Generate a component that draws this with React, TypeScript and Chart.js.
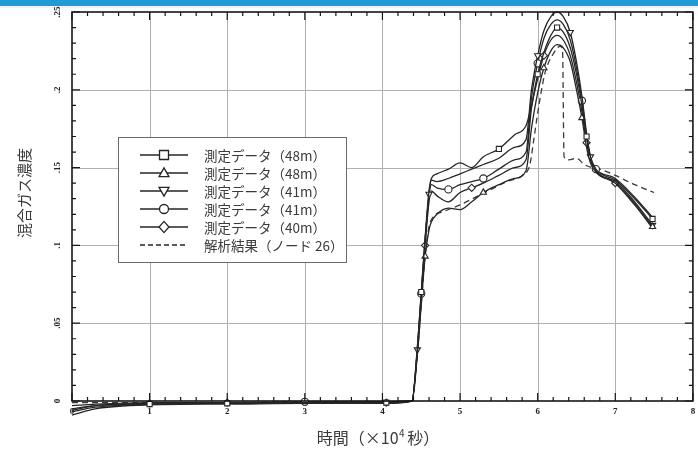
import React, { useEffect, useRef } from "react";
import { Chart, registerables } from "chart.js";

Chart.register(...registerables);

// Time axis (×10^4 s) shared by the measured series
const time = [
  0, 0.3, 1, 2, 3, 4.05, 4.38, 4.45, 4.5, 4.55, 4.6, 4.63, 4.7, 4.85, 5.0, 5.15, 5.3, 5.5,
  5.7, 5.85, 5.92, 6.0, 6.08, 6.17, 6.25, 6.33, 6.42, 6.5, 6.57, 6.63, 6.68, 6.75, 7.0, 7.25, 7.48,
];

// Measured mixed-gas concentration
const square48 = [
  -0.007, -0.004, -0.002, -0.0015, -0.001, -0.001, 0, 0.035, 0.07, 0.105, 0.135, 0.143, 0.146, 0.149,
  0.153, 0.15, 0.157, 0.162, 0.171, 0.177, 0.19, 0.21, 0.224, 0.235, 0.24, 0.237, 0.227, 0.21, 0.19,
  0.17, 0.157, 0.149, 0.142, 0.13, 0.117,
];
const triangle48 = [
  -0.009, -0.005, -0.0025, -0.002, -0.0015, -0.0015, 0, 0.03, 0.062, 0.093, 0.11, 0.115, 0.12, 0.124,
  0.123, 0.128, 0.134, 0.139, 0.143, 0.148, 0.175, 0.198, 0.214, 0.225, 0.229, 0.227, 0.218, 0.2,
  0.182, 0.163, 0.153, 0.147, 0.14, 0.127, 0.112,
];
const invTriangle41 = [
  -0.005, -0.003, -0.002, -0.001, -0.001, -0.0005, 0, 0.033, 0.068, 0.103, 0.133, 0.142, 0.141, 0.143,
  0.146, 0.149, 0.152, 0.156, 0.163, 0.168, 0.2, 0.222, 0.238, 0.247, 0.25, 0.247, 0.237, 0.218,
  0.196, 0.172, 0.157, 0.148, 0.141, 0.128, 0.113,
];
const circle41 = [
  -0.003, -0.002, -0.001, -0.001, -0.0005, -0.0005, 0, 0.034, 0.069, 0.104, 0.132, 0.139, 0.137,
  0.136, 0.139, 0.141, 0.143, 0.149, 0.155, 0.16, 0.195, 0.217, 0.233, 0.242, 0.245, 0.242, 0.232,
  0.214, 0.193, 0.17, 0.156, 0.149, 0.143, 0.131, 0.118,
];
const diamond40 = [
  -0.006, -0.003, -0.0015, -0.001, -0.001, -0.001, 0, 0.032, 0.066, 0.1, 0.128, 0.135, 0.132, 0.128,
  0.134, 0.137, 0.14, 0.145, 0.15, 0.155, 0.188, 0.207, 0.222, 0.232, 0.235, 0.232, 0.222, 0.205,
  0.186, 0.166, 0.155, 0.148, 0.14, 0.126, 0.111,
];

// Indices of `time` where a symbol is plotted
const marksSquare = [2, 3, 5, 8, 17, 21, 24, 29, 34];
const marksTriangle = [9, 16, 22, 28, 34];
const marksInvTriangle = [7, 10, 21, 26, 30, 34];
const marksCircle = [4, 8, 13, 16, 21, 28, 31];
const marksDiamond = [2, 3, 5, 9, 15, 22, 29, 32];

// Analysis result (node 26)
const analysisTime = [
  0, 0.5, 1, 2, 3, 4, 4.38, 4.45, 4.5, 4.55, 4.6, 4.65, 4.8, 5.0, 5.2, 5.4, 5.6, 5.8, 5.9, 5.95,
  6.0, 6.05, 6.1, 6.2, 6.29, 6.32, 6.34, 6.4, 6.5, 6.6, 6.7, 6.8, 7.0, 7.25, 7.5,
];
const analysis = [
  -0.001, -0.001, -0.001, -0.001, -0.0005, -0.0005, 0, 0.03, 0.062, 0.093, 0.112, 0.118, 0.122,
  0.126, 0.131, 0.136, 0.141, 0.145, 0.152, 0.168, 0.185, 0.2, 0.212, 0.223, 0.228, 0.226, 0.157,
  0.155, 0.156, 0.152, 0.15, 0.149, 0.145, 0.139, 0.134,
];

const seriesLabels = [
  "測定データ（48m）",
  "測定データ（48m）",
  "測定データ（41m）",
  "測定データ（41m）",
  "測定データ（40m）",
  "解析結果（ノード 26）",
];

const xTicks = [0, 1, 2, 3, 4, 5, 6, 7, 8];
const yTicks = [0, 0.05, 0.1, 0.15, 0.2, 0.25];
const yTickLabels = ["0", ".05", ".1", ".15", ".2", ".25"];

const LINE = "#262626";
const JP = '"Noto Sans CJK JP", "Noto Sans", sans-serif';
const SERIF = '"Liberation Serif", "DejaVu Serif", serif';

type Marker = "rect" | "triangle" | "invtriangle" | "circle" | "rectRot" | "none";

function drawMarker(ctx: CanvasRenderingContext2D, kind: Marker, cx: number, cy: number, r: number) {
  if (kind === "none") return;
  ctx.beginPath();
  if (kind === "rect") {
    ctx.rect(cx - r, cy - r, 2 * r, 2 * r);
  } else if (kind === "triangle") {
    ctx.moveTo(cx, cy - r * 1.15);
    ctx.lineTo(cx + r * 1.1, cy + r * 0.8);
    ctx.lineTo(cx - r * 1.1, cy + r * 0.8);
    ctx.closePath();
  } else if (kind === "invtriangle") {
    ctx.moveTo(cx, cy + r * 1.15);
    ctx.lineTo(cx + r * 1.1, cy - r * 0.8);
    ctx.lineTo(cx - r * 1.1, cy - r * 0.8);
    ctx.closePath();
  } else if (kind === "circle") {
    ctx.arc(cx, cy, r, 0, Math.PI * 2);
  } else if (kind === "rectRot") {
    ctx.moveTo(cx, cy - r * 1.25);
    ctx.lineTo(cx + r * 1.1, cy);
    ctx.lineTo(cx, cy + r * 1.25);
    ctx.lineTo(cx - r * 1.1, cy);
    ctx.closePath();
  }
  ctx.fillStyle = "#fff";
  ctx.fill();
  ctx.stroke();
}

const legendMarkers: Marker[] = ["rect", "triangle", "invtriangle", "circle", "rectRot", "none"];

const framePlugin = {
  id: "frame",
  beforeDraw(chart: any) {
    const { ctx, chartArea: a, scales } = chart;
    const x = scales.x;
    const y = scales.y;
    ctx.save();
    ctx.fillStyle = "#fff";
    ctx.fillRect(0, 0, chart.width, chart.height);
    ctx.fillStyle = "#1f9bd5";
    ctx.fillRect(0, 0, chart.width, 6);
    ctx.fillStyle = "#fbeef3";
    ctx.fillRect(0, 6, chart.width, 2);

    ctx.strokeStyle = "#b0b0b0";
    ctx.lineWidth = 1;
    ctx.beginPath();
    for (const v of xTicks) {
      if (v <= 0 || v >= 8) continue;
      const px = Math.round(x.getPixelForValue(v)) + 0.5;
      ctx.moveTo(px, a.top);
      ctx.lineTo(px, a.bottom);
    }
    for (const v of yTicks) {
      if (v <= 0 || v >= 0.25) continue;
      const py = Math.round(y.getPixelForValue(v)) + 0.5;
      ctx.moveTo(a.left, py);
      ctx.lineTo(a.right, py);
    }
    ctx.stroke();
    ctx.restore();
  },
  afterDatasetsDraw(chart: any) {
    const { ctx, chartArea: a, scales } = chart;
    const x = scales.x;
    const y = scales.y;
    ctx.save();

    // plot frame
    ctx.strokeStyle = "#161616";
    ctx.lineWidth = 1.6;
    ctx.strokeRect(a.left, a.top, a.right - a.left, a.bottom - a.top);

    // inward ticks: x every 0.2, y every 0.01
    ctx.lineWidth = 1.2;
    ctx.beginPath();
    for (let i = 0; i <= 40; i++) {
      const px = x.getPixelForValue(i * 0.2);
      const len = i % 5 === 0 ? 8 : 4;
      ctx.moveTo(px, a.bottom);
      ctx.lineTo(px, a.bottom - len);
      ctx.moveTo(px, a.top);
      ctx.lineTo(px, a.top + len);
    }
    for (let i = 0; i <= 25; i++) {
      const py = y.getPixelForValue(i * 0.01);
      const len = i % 5 === 0 ? 8 : 4;
      ctx.moveTo(a.left, py);
      ctx.lineTo(a.left + len, py);
      ctx.moveTo(a.right, py);
      ctx.lineTo(a.right - len, py);
    }
    ctx.stroke();

    // tick labels
    ctx.fillStyle = "#222";
    ctx.font = `bold 9px ${SERIF}`;
    ctx.textAlign = "center";
    ctx.textBaseline = "top";
    for (const v of xTicks) {
      ctx.fillText(String(v), x.getPixelForValue(v), a.bottom + 6);
    }
    yTicks.forEach((v, i) => {
      ctx.save();
      ctx.translate(a.left - 14, y.getPixelForValue(v));
      ctx.rotate(-Math.PI / 2);
      ctx.textBaseline = "middle";
      ctx.fillText(yTickLabels[i], 0, 0);
      ctx.restore();
    });

    // axis titles
    ctx.fillStyle = "#3a3a3a";
    ctx.font = `15px ${JP}`;
    ctx.save();
    ctx.translate(24, 193);
    ctx.rotate(-Math.PI / 2);
    ctx.textAlign = "center";
    ctx.textBaseline = "middle";
    ctx.fillText("混合ガス濃度", 0, 0);
    ctx.restore();

    const part1 = "時間（×10";
    const part2 = " 秒）";
    ctx.font = `16px ${JP}`;
    const w1 = ctx.measureText(part1).width;
    const w2 = ctx.measureText(part2).width;
    const total = w1 + 5 + w2;
    const tx = 378 - total / 2;
    const ty = 438;
    ctx.textAlign = "left";
    ctx.textBaseline = "middle";
    ctx.fillText(part1, tx, ty);
    ctx.font = `10px ${JP}`;
    ctx.fillText("4", tx + w1 + 0.5, ty - 5);
    ctx.font = `16px ${JP}`;
    ctx.fillText(part2, tx + w1 + 5, ty);

    // legend
    const bx = 118;
    const by = 137;
    const bw = 228;
    const bh = 125;
    ctx.fillStyle = "#fff";
    ctx.fillRect(bx, by, bw, bh);
    ctx.strokeStyle = "#6a6a6a";
    ctx.lineWidth = 1;
    ctx.strokeRect(bx + 0.5, by + 0.5, bw, bh);
    const rowY = [155, 173, 191, 209, 227, 245];
    ctx.font = `13.5px ${JP}`;
    seriesLabels.forEach((label, i) => {
      const ry = rowY[i];
      ctx.strokeStyle = LINE;
      ctx.lineWidth = 1.6;
      ctx.setLineDash(i === 5 ? [5, 3] : []);
      ctx.beginPath();
      ctx.moveTo(140, ry);
      ctx.lineTo(188, ry);
      ctx.stroke();
      ctx.setLineDash([]);
      ctx.lineWidth = 1.3;
      drawMarker(ctx, legendMarkers[i], 164, ry, 4.5);
      ctx.fillStyle = "#3a3a3a";
      ctx.textAlign = "left";
      ctx.textBaseline = "middle";
      ctx.fillText(label, 204, ry + 1);
    });
    ctx.restore();
  },
};

function markRadius(marks: number[]) {
  return (c: any) => (marks.includes(c.dataIndex) ? 3.6 : 0);
}

function measured(label: string, values: number[], marks: number[], style: string, rotation = 0) {
  return {
    label,
    data: time.map((t, i) => ({ x: t, y: values[i] })),
    borderColor: LINE,
    borderWidth: 1.3,
    pointStyle: style,
    pointRotation: rotation,
    pointRadius: markRadius(marks),
    pointBorderColor: LINE,
    pointBackgroundColor: "#fff",
    pointBorderWidth: 1.1,
    cubicInterpolationMode: "monotone",
    clip: false,
  };
}

export default function App() {
  const ref = useRef<HTMLCanvasElement | null>(null);

  useEffect(() => {
    if (!ref.current) return;
    const chart = new Chart(ref.current, {
      type: "line",
      data: {
        datasets: [
          measured(seriesLabels[0], square48, marksSquare, "rect"),
          measured(seriesLabels[1], triangle48, marksTriangle, "triangle"),
          measured(seriesLabels[2], invTriangle41, marksInvTriangle, "triangle", 180),
          measured(seriesLabels[3], circle41, marksCircle, "circle"),
          measured(seriesLabels[4], diamond40, marksDiamond, "rectRot"),
          {
            label: seriesLabels[5],
            data: analysisTime.map((t, i) => ({ x: t, y: analysis[i] })),
            borderColor: "#3a3a3a",
            borderWidth: 1.3,
            borderDash: [6, 4],
            pointRadius: 0,
            cubicInterpolationMode: "monotone",
            clip: false,
          },
        ] as any,
      },
      options: {
        animation: false,
        responsive: false,
        devicePixelRatio: 1,
        events: [],
        layout: { padding: { left: 72, right: 1, top: 12, bottom: 50 } },
        scales: {
          x: { type: "linear", min: 0, max: 8, display: false },
          y: { type: "linear", min: 0, max: 0.25, display: false },
        },
        plugins: {
          legend: { display: false },
          tooltip: { enabled: false },
        },
      },
      plugins: [framePlugin],
    });
    return () => chart.destroy();
  }, []);

  return (
    <div style={{ position: "fixed", left: 0, top: 0, width: 698, height: 451, background: "#fff" }}>
      <canvas ref={ref} width={698} height={451} style={{ display: "block" }} />
    </div>
  );
}
